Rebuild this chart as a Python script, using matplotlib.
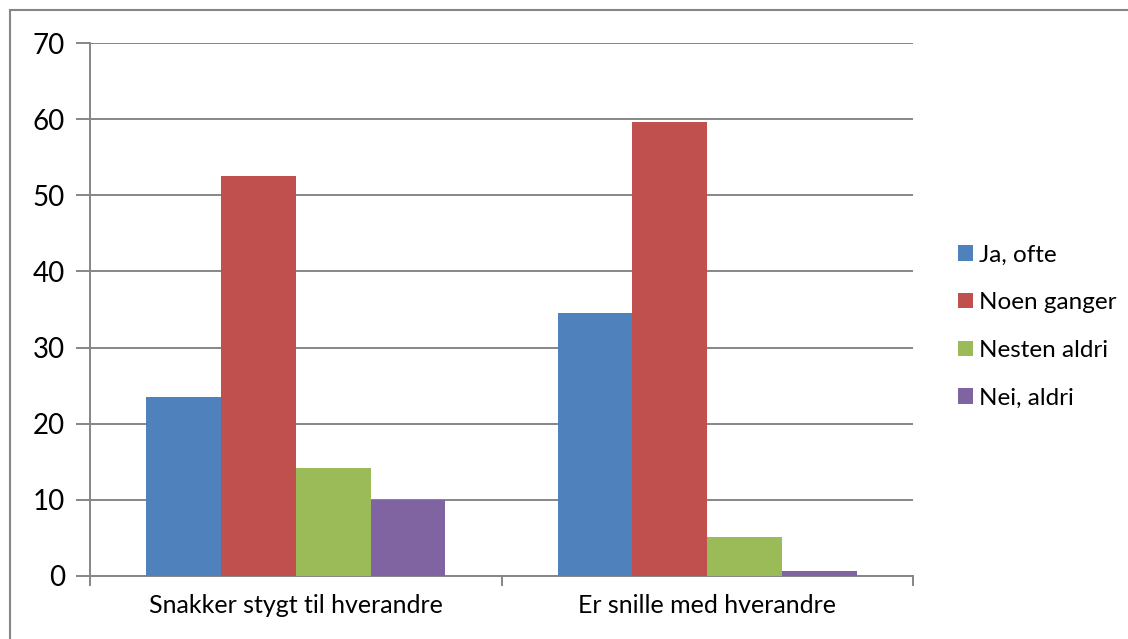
import numpy as np
import matplotlib.pyplot as plt
from matplotlib.patches import Rectangle

# --- data ---
categories = ["Snakker stygt til hverandre", "Er snille med hverandre"]
series_names = ["Ja, ofte", "Noen ganger", "Nesten aldri", "Nei, aldri"]
ja_ofte = [23.5, 34.6]
noen_ganger = [52.5, 59.6]
nesten_aldri = [14.2, 5.1]
nei_aldri = [10.0, 0.6]
y_ticks = [0, 10, 20, 30, 40, 50, 60, 70]

colors = ["#4F81BD", "#C0504D", "#9BBB59", "#8064A2"]
grid_gray = "#868686"

plt.rcParams["font.family"] = ["Lato", "DejaVu Sans"]

fig = plt.figure(figsize=(11.28, 6.39), dpi=100)
ax = fig.add_axes([90 / 1128, 1 - 576 / 639, (913 - 90) / 1128, (576 - 43) / 639])

# Excel-style clustered columns: gap width 150%
n = len(series_names)
width = 1 / (n + 1.5)
x = np.arange(len(categories))
all_series = [ja_ofte, noen_ganger, nesten_aldri, nei_aldri]
for i, (name, vals) in enumerate(zip(series_names, all_series)):
    offs = (i - (n - 1) / 2) * width
    ax.bar(x + offs, vals, width, color=colors[i], label=name, zorder=3)

ax.set_xlim(-0.5, len(categories) - 0.5)
ax.set_ylim(0, 70)
ax.set_yticks(y_ticks)
ax.set_yticklabels([str(t) for t in y_ticks], fontsize=20)
ax.yaxis.grid(True, color=grid_gray, linewidth=1.4, zorder=0)
ax.set_axisbelow(True)

# category labels centred, tick marks at category boundaries
ax.set_xticks(x)
ax.set_xticklabels(categories, fontsize=18)
ax.tick_params(axis="x", length=0, pad=13)
ax.set_xticks(np.arange(-0.5, len(categories)), minor=True)
ax.tick_params(axis="x", which="minor", length=7, width=1.4, color=grid_gray)
ax.tick_params(axis="y", length=10, width=1.4, color=grid_gray, pad=8)

for side in ["top", "right"]:
    ax.spines[side].set_visible(False)
for side in ["left", "bottom"]:
    ax.spines[side].set_color(grid_gray)
    ax.spines[side].set_linewidth(1.4)

leg = ax.legend(loc="center left", bbox_to_anchor=(1.028, 0.468), frameon=False,
                fontsize=17.5, handlelength=0.6, handleheight=0.6,
                handletextpad=0.25, labelspacing=1.1)

# outer chart border (right and bottom edges run off the image)
fig.patches.append(Rectangle((10 / 1128, -0.05), 1.1, 1.05 - 10 / 639,
                             transform=fig.transFigure, fill=False,
                             edgecolor=grid_gray, linewidth=1.5))

fig.savefig("out.png", dpi=100)
